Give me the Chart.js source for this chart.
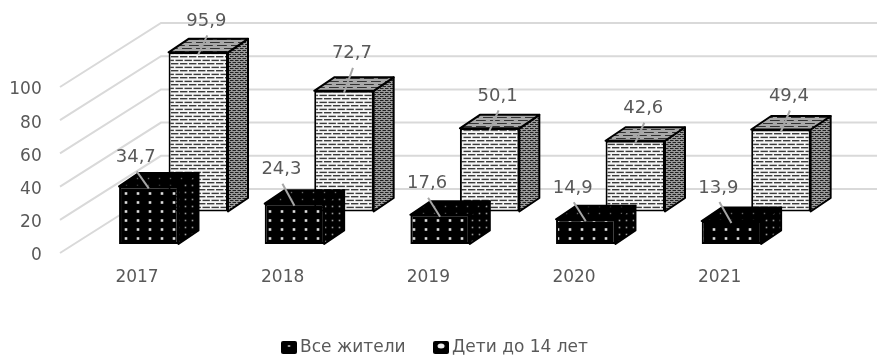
<!DOCTYPE html>
<html>
<head>
<meta charset="utf-8">
<title>Chart</title>
<script src="https://cdn.jsdelivr.net/npm/chart.js@4"></script>
<style>
  html, body { margin: 0; padding: 0; background: #fff; }
  #wrap { width: 877px; height: 355px; }
</style>
</head>
<body>
<div id="wrap"><canvas id="chart" width="877" height="355"></canvas></div>
<script>
const years = ["2017", "2018", "2019", "2020", "2021"];
const allResidents = [34.7, 24.3, 17.6, 14.9, 13.9];
const children = [95.9, 72.7, 50.1, 42.6, 49.4];
const seriesNames = ["Все жители", "Дети до 14 лет"];
const yTicks = [0, 20, 40, 60, 80, 100];

// fake 3D: how far each row sits behind the front plane, in axis units
const rowLift = [5.4, 25];
const barDepth = { x: 20, y: -13.5 };
const wallShift = { x: 101, y: -64 };
const gridColor = "#d9d9d9";
const textColor = "#595959";
const fontName = "'DejaVu Sans'";

// where the data labels sit relative to the front top edge of the bar
const labelDx = [-13, 8];
const labelDy = [
  [-29, -34, -31, -31, -33],
  [-31, -37, -32, -32, -33],
];

function tile(w, h, bg, draw) {
  const c = document.createElement("canvas");
  c.width = w;
  c.height = h;
  const g = c.getContext("2d");
  g.fillStyle = bg;
  g.fillRect(0, 0, w, h);
  draw(g);
  return document.createElement("canvas").getContext("2d").createPattern(c, "repeat");
}

function dots(w, h, size, color) {
  return function (g) {
    g.fillStyle = color;
    g.fillRect(w / 2 - size / 2, h / 2 - size / 2, size, size);
  };
}

function dashes(w, color, step, thick, len) {
  return function (g) {
    g.fillStyle = color;
    g.fillRect(0, 0, w * len, thick);
    g.fillRect(w * 0.5, step, w * len, thick);
    g.fillRect(w * 0.5 - w, step, w * len, thick);
  };
}

function swatch(holeW, holeH) {
  const c = document.createElement("canvas");
  c.width = 16;
  c.height = 13;
  const g = c.getContext("2d");
  g.fillStyle = "#000";
  g.beginPath();
  g.roundRect(0, 0, 16, 13, 2);
  g.fill();
  g.fillStyle = "#eee";
  g.beginPath();
  g.ellipse(8, 5, holeW, holeH, 0, 0, Math.PI * 2);
  g.fill();
  return c;
}

const patterns = [
  {
    front: tile(12, 9, "#000", dots(12, 9, 2.6, "#dcdcdc")),
    side: tile(7, 7, "#000", dots(7, 7, 1.6, "#999")),
    top: tile(11, 7, "#000", dots(11, 7, 1.4, "#666")),
    swatch: swatch(1.5, 0.8),
  },
  {
    front: tile(9, 7.4, "#f6f6f6", dashes(9, "#3c3c3c", 3.7, 1.4, 0.82)),
    side: tile(5, 4, "#9a9a9a", dashes(5, "#222", 2, 1, 0.7)),
    top: tile(14, 6, "#a8a8a8", dashes(14, "#333", 3, 1, 0.7)),
    swatch: swatch(3.5, 2.5),
  },
];

function face(ctx, pts, fill) {
  ctx.beginPath();
  pts.forEach(function (p, i) {
    if (i === 0) ctx.moveTo(p[0], p[1]);
    else ctx.lineTo(p[0], p[1]);
  });
  ctx.closePath();
  ctx.fillStyle = fill;
  ctx.fill();
  ctx.stroke();
}

const box3d = {
  id: "box3d",
  afterLayout(chart) {
    // legend sits off centre and low, under the plot
    chart.legend.left += 22.75;
    chart.legend.right += 22.75;
    chart.legend.top = 306;
    chart.legend.bottom = 355;
  },
  afterUpdate(chart) {
    // y tick text rides a bit high against the wall lines
    chart.scales.y.getLabelItems().forEach(function (item) {
      item.options.translation[1] += 3;
    });
  },
  beforeDatasetsDraw(chart) {
    // side wall lines from the y scale, the front plane is only a diagonal
    const ctx = chart.ctx;
    const scale = chart.scales.y;
    const left = 60;
    ctx.save();
    ctx.strokeStyle = gridColor;
    ctx.lineWidth = 2;
    yTicks.forEach(function (t) {
      const y = scale.getPixelForValue(t);
      ctx.beginPath();
      ctx.moveTo(left, y);
      ctx.lineTo(left + wallShift.x, y + wallShift.y);
      ctx.lineTo(chart.width, y + wallShift.y);
      ctx.stroke();
    });
    ctx.restore();
  },
  afterDatasetDraw(chart, args) {
    const ctx = chart.ctx;
    const p = patterns[args.index];
    const dx = barDepth.x;
    const dy = barDepth.y;
    ctx.save();
    ctx.strokeStyle = "#000";
    ctx.lineWidth = 2;
    ctx.lineJoin = "round";
    args.meta.data.forEach(function (bar) {
      const l = bar.x - bar.width / 2;
      const r = bar.x + bar.width / 2;
      face(ctx, [[r, bar.y], [r + dx, bar.y + dy], [r + dx, bar.base + dy], [r, bar.base]], p.side);
      face(ctx, [[l, bar.y], [l + dx, bar.y + dy], [r + dx, bar.y + dy], [r, bar.y]], p.top);
    });
    ctx.restore();
  },
  afterDatasetsDraw(chart) {
    const ctx = chart.ctx;
    ctx.save();
    ctx.font = "18px " + fontName;
    ctx.textAlign = "center";
    ctx.textBaseline = "middle";
    [allResidents, children].forEach(function (values, s) {
      chart.getDatasetMeta(s).data.forEach(function (bar, i) {
        const x = bar.x + labelDx[s];
        const y = bar.y + labelDy[s][i];
        ctx.strokeStyle = "#a6a6a6";
        ctx.lineWidth = 2;
        ctx.beginPath();
        ctx.moveTo(x + 1, y + 14);
        ctx.lineTo(bar.x, bar.y + 2);
        ctx.stroke();
        ctx.fillStyle = textColor;
        ctx.fillText(values[i].toFixed(1).replace(".", ","), x, y);
      });
    });
    ctx.restore();
  },
};

new Chart(document.getElementById("chart"), {
  type: "bar",
  plugins: [box3d],
  data: {
    labels: years,
    datasets: [
      {
        label: seriesNames[0],
        data: allResidents.map(function (v) { return [rowLift[0], rowLift[0] + v]; }),
        backgroundColor: patterns[0].front,
      },
      {
        label: seriesNames[1],
        data: children.map(function (v) { return [rowLift[1], rowLift[1] + v]; }),
        backgroundColor: patterns[1].front,
      },
    ].map(function (d) {
      return Object.assign(d, {
        borderColor: "#000",
        borderWidth: 2,
        borderSkipped: false,
        clip: false,
        categoryPercentage: 0.68,
        barPercentage: 1.2,
      });
    }),
  },
  options: {
    responsive: false,
    animation: false,
    layout: { padding: { top: 87, right: 48, left: 0, bottom: 0 } },
    scales: {
      x: {
        grid: { display: false },
        border: { display: false },
        ticks: {
          color: textColor,
          font: { family: fontName, size: 17 },
          padding: 6,
          labelOffset: -36.5,
          maxRotation: 0,
          autoSkip: false,
        },
        afterFit(scale) { scale.height = 42; },
      },
      y: {
        min: 0,
        max: 100,
        grid: { display: false },
        border: { display: false },
        ticks: {
          color: textColor,
          font: { family: fontName, size: 17 },
          padding: 51,
          stepSize: 20,
        },
        afterFit(scale) { scale.width = 100.7; },
      },
    },
    plugins: {
      tooltip: { enabled: false },
      legend: {
        position: "bottom",
        labels: {
          color: textColor,
          font: { family: fontName, size: 17 },
          usePointStyle: true,
          pointStyleWidth: 5,
          boxHeight: 13,
          padding: 33,
          generateLabels(chart) {
            const items = Chart.defaults.plugins.legend.labels.generateLabels(chart);
            items.forEach(function (item, i) { item.pointStyle = patterns[i].swatch; });
            return items;
          },
        },
      },
    },
  },
});
</script>
</body>
</html>
